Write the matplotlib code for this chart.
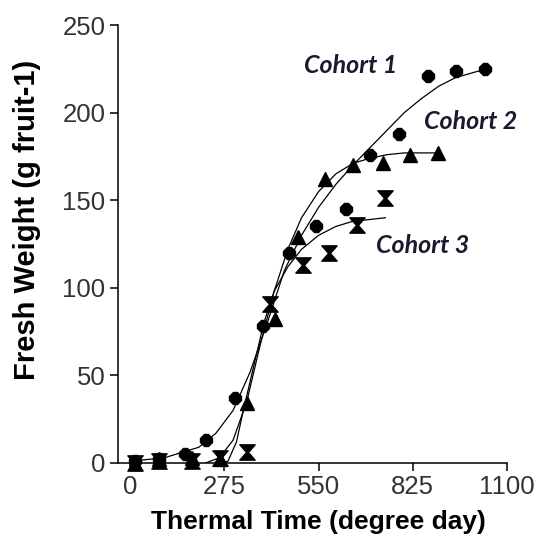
import matplotlib
matplotlib.use("Agg")
import matplotlib.pyplot as plt
from matplotlib.path import Path

# Observed fresh weight (g fruit-1) against thermal time (degree day)
c1_x = [15, 85, 160, 222, 307, 388, 464, 543, 631, 701, 785, 870, 950, 1035]
c1_y = [1, 2, 5, 13, 37, 78, 120, 135, 145, 176, 188, 221, 224, 225]

c2_x = [15, 85, 181, 263, 342, 423, 491, 569, 651, 739, 818, 899]
c2_y = [0, 2, 3, 2, 34, 82, 129, 162, 170, 171, 176, 177]

c3_x = [15, 85, 181, 263, 342, 409, 505, 581, 663, 745]
c3_y = [0, 1, 1, 3, 6, 91, 113, 120, 136, 151]

# Fitted curves
fit1_x = [0, 100, 200, 250, 300, 350, 400, 450, 500, 550, 600, 650, 700, 750, 800, 850, 900, 950, 1040]
fit1_y = [1, 3, 9, 17, 30, 52, 80, 110, 130, 146, 159, 170, 180, 190, 200, 208, 215, 220, 225]

fit2_x = [220, 260, 300, 340, 380, 420, 460, 500, 550, 600, 650, 700, 750, 800, 900]
fit2_y = [0, 3, 13, 35, 68, 98, 122, 140, 155, 165, 171, 174, 176, 177, 177]

fit3_x = [250, 285, 310, 330, 360, 390, 420, 460, 500, 550, 600, 650, 700, 745]
fit3_y = [0, 1, 12, 30, 55, 80, 98, 112, 122, 130, 135, 138, 139, 140]

xticks = [0, 275, 550, 825, 1100]
yticks = [0, 50, 100, 150, 200, 250]

# hourglass marker
hourglass = Path([(-1, 1), (1, 1), (0.12, 0), (1, -1), (-1, -1), (-0.12, 0), (-1, 1)],
                 [Path.MOVETO] + [Path.LINETO] * 5 + [Path.CLOSEPOLY])

fig = plt.figure(figsize=(5.43, 5.44), dpi=100)
ax = fig.add_axes([0.2173, 0.1489, 0.7164, 0.8051])

ax.plot(fit1_x, fit1_y, color="black", lw=0.9)
ax.plot(fit2_x, fit2_y, color="black", lw=0.9)
ax.plot(fit3_x, fit3_y, color="black", lw=0.9)

ax.plot(c1_x, c1_y, "8", color="black", ms=9, ls="none", clip_on=False)
ax.plot(c2_x, c2_y, "^", color="black", ms=10, ls="none", clip_on=False)
ax.plot(c3_x, c3_y, marker=hourglass, color="black", ms=11, ls="none", clip_on=False)

lab = dict(fontsize=18, fontweight="bold", fontstyle="italic", family="Lato", color="#1a1a2e")
ax.text(643, 227, "Cohort 1", ha="center", va="center", **lab)
ax.text(995, 195, "Cohort 2", ha="center", va="center", **lab)
ax.text(855, 124, "Cohort 3", ha="center", va="center", **lab)

ax.set_xlim(-36, 1100)
ax.set_ylim(0, 250)
ax.set_xticks(xticks)
ax.set_yticks(yticks)
for s in ["top", "right"]:
    ax.spines[s].set_visible(False)
for s in ["left", "bottom"]:
    ax.spines[s].set_linewidth(1.1)
ax.tick_params(direction="out", length=6, width=1.1, labelsize=18.5, labelcolor="#333333",
               pad=3)
for t in ax.get_xticklabels() + ax.get_yticklabels():
    t.set_family("Liberation Sans")

ax.set_xlabel("Thermal Time (degree day)", fontsize=19, fontweight="bold",
              family="Liberation Sans", va="center")
ax.set_ylabel("Fresh Weight (g fruit-1)", fontsize=21, fontweight="bold",
              family="Liberation Sans", va="center")
ax.xaxis.set_label_coords(0.514, -0.135)
ax.yaxis.set_label_coords(-0.234, 0.555)

fig.savefig("out.png", dpi=100)
